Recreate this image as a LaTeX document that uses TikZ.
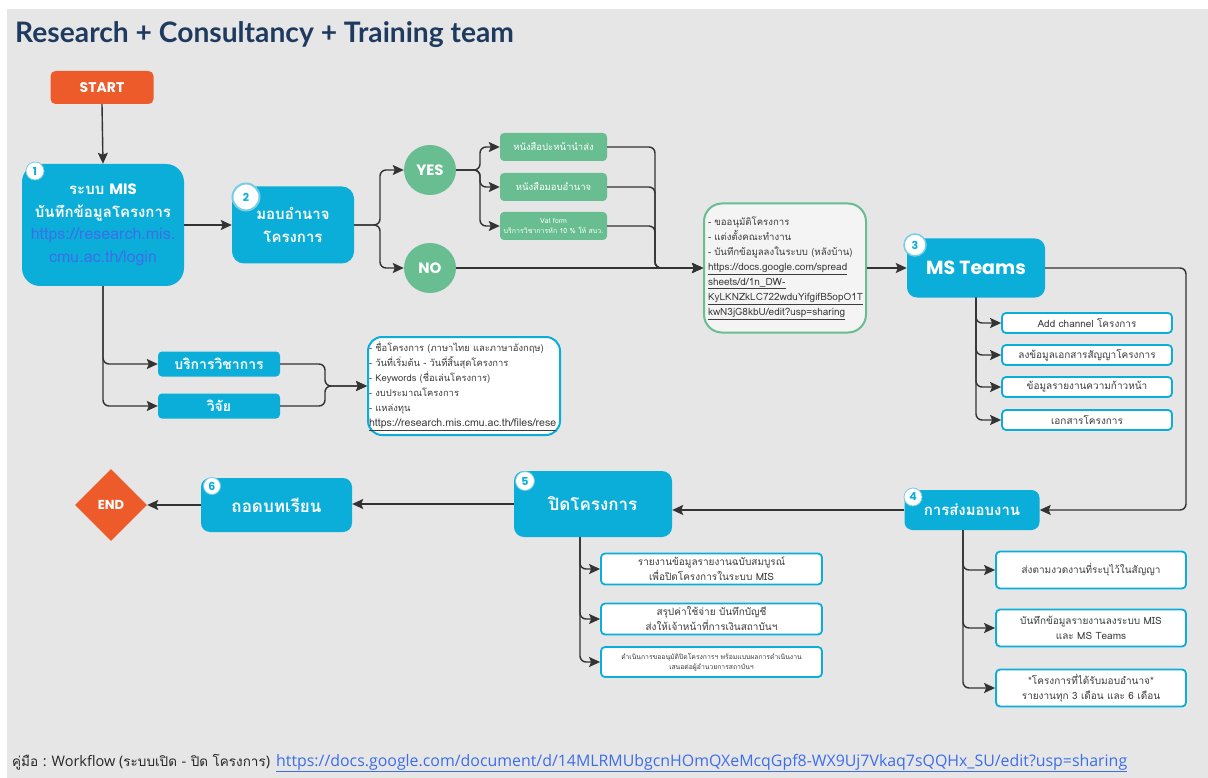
\documentclass[tikz,border=0pt]{standalone}
\usepackage{fontspec}
\setmainfont[Script=Thai]{Loma}
\newfontfamily\titlefont{Lato}
\newfontfamily\popf{Poppins}
\newfontfamily\osans{Open Sans}
\usetikzlibrary{arrows.meta,shapes.geometric,calc}
\definecolor{bg}{RGB}{230,230,230}
\definecolor{cyanb}{RGB}{10,174,216}
\definecolor{cyanl}{RGB}{120,205,230}
\definecolor{greenb}{RGB}{104,189,145}
\definecolor{orangeb}{RGB}{238,91,43}
\definecolor{navy}{RGB}{30,58,95}
\definecolor{linec}{RGB}{51,51,51}
\definecolor{linkblue}{RGB}{60,110,235}
\definecolor{midfill}{RGB}{244,244,244}
\definecolor{txt}{RGB}{60,60,60}
\tikzset{
  conn/.style={draw=linec, line width=1.4pt, rounded corners=6pt},
  arr/.style={conn, -{Stealth[length=11pt,width=10pt,inset=2pt]}},
  bigbox/.style={fill=cyanb, text=white, inner sep=0pt, align=center},
  gbox/.style={fill=greenb, text=white, inner sep=0pt, align=center, rounded corners=4pt, minimum width=107pt, minimum height=28pt},
  wbox/.style={fill=white, draw=cyanb, line width=1.8pt, text=txt, inner sep=0pt, align=center, rounded corners=4pt},
  badge/.style={circle, fill=white, draw=cyanl, line width=0.8pt, text=cyanb, inner sep=0pt, font=\popf\bfseries\fontsize{11}{11}\selectfont},
}
\newcommand{\lnk}[1]{{\fontsize{10}{15}\selectfont\underline{#1}}}
\begin{document}
\begin{tikzpicture}[x=1pt,y=-1pt]
\useasboundingbox (0,0) rectangle (1208,778);
\fill[white] (0,0) rectangle (1208,778);
\fill[bg] (7,9) rectangle (1208,778);

\node[anchor=base west, text=navy, font=\titlefont\bfseries\fontsize{28.2}{29}\selectfont, inner sep=0pt] (title) at (15,43) {Research + Consultancy + Training team};

% start
\node[fill=orangeb, text=white, rounded corners=5pt, minimum width=103pt, minimum height=33pt, inner sep=0pt, font=\popf\bfseries\fontsize{14}{14}\selectfont] (start) at (102,87.5) {START};

% node 1
\node[bigbox, minimum width=162pt, minimum height=122pt, rounded corners=18pt, font=\fontsize{15}{22.5}\selectfont] (n1) at (103,225)
 {{\bfseries ระบบ {\popf MIS}}\\
  {\bfseries บันทึกข้อมูลโครงการ}\\
  {\fontsize{16}{22.5}\selectfont\color{linkblue}https://research.mis.}\\
  {\fontsize{16}{22.5}\selectfont\color{linkblue}cmu.ac.th/login}};
\node[badge, minimum size=18pt] (b1) at (35,171) {1};

% node 2
\node[bigbox, minimum width=122pt, minimum height=77pt, rounded corners=12pt, font=\bfseries\fontsize{15}{22.5}\selectfont] (n2) at (293,225)
 {มอบอำนาจ\\ โครงการ};
\node[badge, minimum size=27pt, line width=2pt] (b2) at (246,197) {2};

% yes / no
\node[ellipse, fill=greenb, text=white, minimum width=52pt, minimum height=50pt, inner sep=0pt, font=\popf\bfseries\fontsize{15}{15}\selectfont] (yes) at (430,170) {YES};
\node[ellipse, fill=greenb, text=white, minimum width=52pt, minimum height=50pt, inner sep=0pt, font=\popf\bfseries\fontsize{15}{15}\selectfont] (no) at (430,268) {NO};

% green boxes
\node[gbox, font=\fontsize{9.5}{11}\selectfont] (ga) at (553.5,147) {หนังสือปะหน้านำส่ง};
\node[gbox, font=\fontsize{9.5}{11}\selectfont] (gb) at (553.5,187) {หนังสือมอบอำนาจ};
\node[gbox, font=\fontsize{7}{10}\selectfont] (gc) at (553.5,226) {Vat form\\ บริการวิชาการหัก 10 \% ให้ สบว.};

% middle box
\node[fill=midfill, draw=greenb, line width=2pt, rounded corners=18pt, minimum width=162pt, minimum height=129pt, text width=154pt, inner xsep=4pt, align=left, text=txt, font=\fontsize{9.6}{15}\selectfont] (mid) at (785,268)
 {- ขออนุมัติโครงการ\\
  - แต่งตั้งคณะทำงาน\\
  - บันทึกข้อมูลลงในระบบ (หลังบ้าน)\\
  \lnk{https://docs.google.com/spread}\\
  \lnk{sheets/d/1n\_DW-}\\
  \lnk{KyLKNZkLC722wduYifgifB5opO1T}\\
  \lnk{kwN3jG8kbU/edit?usp=sharing}};

% MS Teams
\node[bigbox, minimum width=138pt, minimum height=59pt, rounded corners=10pt, font=\popf\bfseries\fontsize{19}{19}\selectfont] (ms) at (976,268) {MS Teams};
\node[badge, minimum size=22pt, line width=1.5pt] (b3) at (915,245) {3};

\node[wbox, minimum width=170pt, minimum height=20pt, font=\fontsize{10}{12}\selectfont] (t1) at (1087,323) {Add channel โครงการ};
\node[wbox, minimum width=170pt, minimum height=20pt, font=\fontsize{10}{12}\selectfont] (t2) at (1087,355) {ลงข้อมูลเอกสารสัญญาโครงการ};
\node[wbox, minimum width=170pt, minimum height=20pt, font=\fontsize{10}{12}\selectfont] (t3) at (1087,387) {ข้อมูลรายงานความก้าวหน้า};
\node[wbox, minimum width=170pt, minimum height=20pt, font=\fontsize{10}{12}\selectfont] (t4) at (1087,420) {เอกสารโครงการ};

% step 4
\node[bigbox, minimum width=135pt, minimum height=40pt, rounded corners=8pt, font=\bfseries\fontsize{15}{15}\selectfont] (s4) at (972,510) {การส่งมอบงาน};
\node[badge, minimum size=18pt] (b4) at (913,497) {4};

\node[wbox, minimum width=190pt, minimum height=37pt, font=\fontsize{10}{15}\selectfont] (u1) at (1091,570) {ส่งตามงวดงานที่ระบุไว้ในสัญญา};
\node[wbox, minimum width=190pt, minimum height=37pt, font=\fontsize{10}{15}\selectfont] (u2) at (1091,628) {บันทึกข้อมูลรายงานลงระบบ MIS\\ และ MS Teams};
\node[wbox, minimum width=190pt, minimum height=37pt, font=\fontsize{10}{15}\selectfont] (u3) at (1091,688) {*โครงการที่ได้รับมอบอำนาจ*\\ รายงานทุก 3 เดือน และ 6 เดือน};

% step 5
\node[bigbox, minimum width=158pt, minimum height=66pt, rounded corners=10pt, font=\bfseries\fontsize{17}{17}\selectfont] (s5) at (593,504) {ปิดโครงการ};
\node[badge, minimum size=19pt] (b5) at (525,481) {5};

\node[wbox, minimum width=221pt, minimum height=31pt, font=\fontsize{10}{15}\selectfont] (v1) at (711.5,569) {รายงานข้อมูลรายงานฉบับสมบูรณ์\\ เพื่อปิดโครงการในระบบ MIS};
\node[wbox, minimum width=221pt, minimum height=31pt, font=\fontsize{10}{15}\selectfont] (v2) at (711.5,619) {สรุปค่าใช้จ่าย บันทึกบัญชี\\ ส่งให้เจ้าหน้าที่การเงินสถาบันฯ};
\node[wbox, minimum width=221pt, minimum height=30pt, font=\fontsize{6.8}{10}\selectfont] (v3) at (711.5,662) {ดำเนินการขออนุมัติปิดโครงการฯ พร้อมแบบผลการดำเนินงาน\\ เสนอต่อผู้อำนวยการสถาบันฯ};

% step 6
\node[bigbox, minimum width=151pt, minimum height=54pt, rounded corners=9pt, font=\bfseries\fontsize{17}{17}\selectfont] (s6) at (276.5,505) {ถอดบทเรียน};
\node[badge, minimum size=17pt] (b6) at (212,486) {6};

% end
\node[diamond, fill=orangeb, text=white, minimum width=72pt, minimum height=72pt, inner sep=0pt, font=\popf\bfseries\fontsize{13}{13}\selectfont] (endn) at (111,505) {END};

% branches from node 1
\node[bigbox, minimum width=122pt, minimum height=25pt, rounded corners=4pt, font=\bfseries\fontsize{14}{14}\selectfont] (bv) at (219,364) {บริการวิชาการ};
\node[bigbox, minimum width=122pt, minimum height=25pt, rounded corners=4pt, font=\bfseries\fontsize{14}{14}\selectfont] (vj) at (219,406) {วิจัย};

\node[fill=white, draw=cyanb, line width=2pt, rounded corners=14pt, minimum width=192pt, minimum height=98pt, text width=190pt, inner xsep=1pt, align=left, text=txt, font=\fontsize{9.4}{15}\selectfont] (info) at (464,386)
 {- ชื่อโครงการ (ภาษาไทย และภาษาอังกฤษ)\\
  - วันที่เริ่มต้น - วันที่สิ้นสุดโครงการ\\
  - Keywords (ชื่อเล่นโครงการ)\\
  - งบประมาณโครงการ\\
  - แหล่งทุน\\
  {\fontsize{10.6}{15}\selectfont\underline{https://research.mis.cmu.ac.th/files/rese}}};

% footer
\node[anchor=base west, inner sep=0pt, text=black!85, font=\fontsize{13.5}{16}\selectfont] (foot) at (12,766)
 {คู่มือ {\osans\fontsize{14.5}{16}\selectfont : Workflow (}ระบบเปิด {\osans\fontsize{14.5}{16}\selectfont -} ปิด โครงการ{\osans\fontsize{14.5}{16}\selectfont )}\hspace{6pt}%
  {\osans\fontsize{15.9}{16}\selectfont\color{linkblue}\underline{https://docs.google.com/document/d/14MLRMUbgcnHOmQXeMcqGpf8-WX9Uj7Vkaq7sQQHx\_SU/edit?usp=sharing}}};

% connectors
\draw[arr] (start.south) -- (n1.north);
\draw[arr] (n1.east) -- (n2.west);
\draw[arr] (n2.east) -- (380,225) |- (yes.west);
\draw[arr] (n2.east) -- (380,225) |- (no.west);
\draw[arr] (yes.east) -- (480,170) |- (ga.west);
\draw[arr] (yes.east) -- (480,170) |- (gb.west);
\draw[arr] (yes.east) -- (480,170) |- (gc.west);
\draw[arr] (ga.east) -- (655,147) -- (655,268) -- (mid.west);
\draw[arr] (gb.east) -- (655,187) -- (655,268) -- (mid.west);
\draw[arr] (gc.east) -- (655,226) -- (655,268) -- (mid.west);
\draw[arr] (no.east) -- (mid.west);
\draw[arr] (mid.east) -- (ms.west);
\draw[arr] (ms.south) |- (t1.west);
\draw[arr] (ms.south) |- (t2.west);
\draw[arr] (ms.south) |- (t3.west);
\draw[arr] (ms.south) |- (t4.west);
\draw[arr] (ms.east) -- (1186,268) -- (1186,510) -- (s4.east);
\draw[arr] ([xshift=-9pt]s4.south) |- (u1.west);
\draw[arr] ([xshift=-9pt]s4.south) |- (u2.west);
\draw[arr] ([xshift=-9pt]s4.south) |- (u3.west);
\draw[arr] (s4.west) -- (s4.west -| s5.east);
\draw[arr] ([xshift=-13pt]s5.south) |- (v1.west);
\draw[arr] ([xshift=-13pt]s5.south) |- (v2.west);
\draw[arr] ([xshift=-13pt]s5.south) |- (v3.west);
\draw[arr] (s5.west) -- (s5.west -| s6.east);
\draw[arr] (s6.west) -- (endn.east);
\draw[arr] (n1.south) |- (bv.west);
\draw[arr] (n1.south) |- (vj.west);
\draw[arr] (bv.east) -- (325,364) -- (325,386) -- (info.west);
\draw[arr] (vj.east) -- (325,406) -- (325,386) -- (info.west);
\end{tikzpicture}
\end{document}
